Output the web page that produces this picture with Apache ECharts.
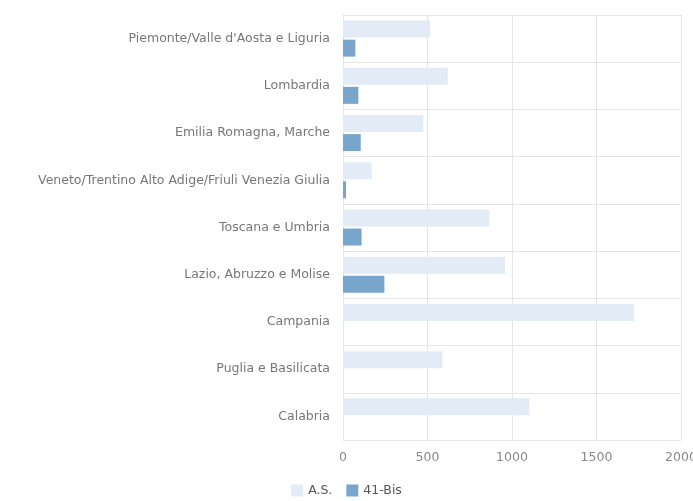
<!DOCTYPE html>
<html>
<head>
<meta charset="utf-8">
<script src="https://cdn.jsdelivr.net/npm/echarts@6/dist/echarts.min.js"></script>
<style>
  html, body { margin: 0; padding: 0; background: #fff; }
  #chart { width: 693px; height: 501px; }
</style>
</head>
<body>
<div id="chart"></div>
<script>
// regioni (dall'alto verso il basso)
var regions = [
  "Piemonte/Valle d'Aosta e Liguria",
  "Lombardia",
  "Emilia Romagna, Marche",
  "Veneto/Trentino Alto Adige/Friuli Venezia Giulia",
  "Toscana e Umbria",
  "Lazio, Abruzzo e Molise",
  "Campania",
  "Puglia e Basilicata",
  "Calabria"
];
var asValues = [515, 620, 475, 170, 866, 959, 1722, 588, 1103];
var bisValues = [73, 91, 105, 18, 110, 245, 0, 0, 0];
var xTicks = [0, 500, 1000, 1500, 2000];

var myChart = echarts.init(document.getElementById("chart"));
var option = {
  animation: false,
  textStyle: { fontFamily: "DejaVu Sans" },
  grid: { left: 343, right: 12, top: 15, bottom: 61, outerBoundsMode: "none", containLabel: false },
  legend: {
    bottom: -1,
    left: "center",
    itemWidth: 12,
    itemHeight: 12,
    itemGap: 14,
    icon: "rect",
    textStyle: { color: "#555", fontSize: 12.5, fontFamily: "DejaVu Sans" },
    data: ["A.S.", "41-Bis"]
  },
  xAxis: {
    type: "value",
    min: xTicks[0],
    max: xTicks[xTicks.length - 1],
    interval: 500,
    axisLine: { show: false },
    axisTick: { show: false },
    axisLabel: { color: "#888", fontSize: 12.5, margin: 11, formatter: function (v) { return String(v); } },
    splitLine: { lineStyle: { color: "#e6e6e6" } }
  },
  yAxis: {
    type: "category",
    inverse: true,
    data: regions,
    axisLine: { lineStyle: { color: "#e6e6e6" } },
    axisTick: { length: 10, lineStyle: { color: "#e6e6e6" } },
    axisLabel: { color: "#777", fontSize: 12.5, margin: 13 },
    splitLine: { show: true, lineStyle: { color: "#e6e6e6" } }
  },
  series: [
    {
      name: "A.S.",
      type: "bar",
      data: asValues,
      barWidth: 17,
      barGap: "12%",
      itemStyle: { color: "#e2ebf6" }
    },
    {
      name: "41-Bis",
      type: "bar",
      data: bisValues,
      barWidth: 17,
      itemStyle: { color: "#77a5cc" }
    }
  ]
};
myChart.setOption(option);
</script>
</body>
</html>
